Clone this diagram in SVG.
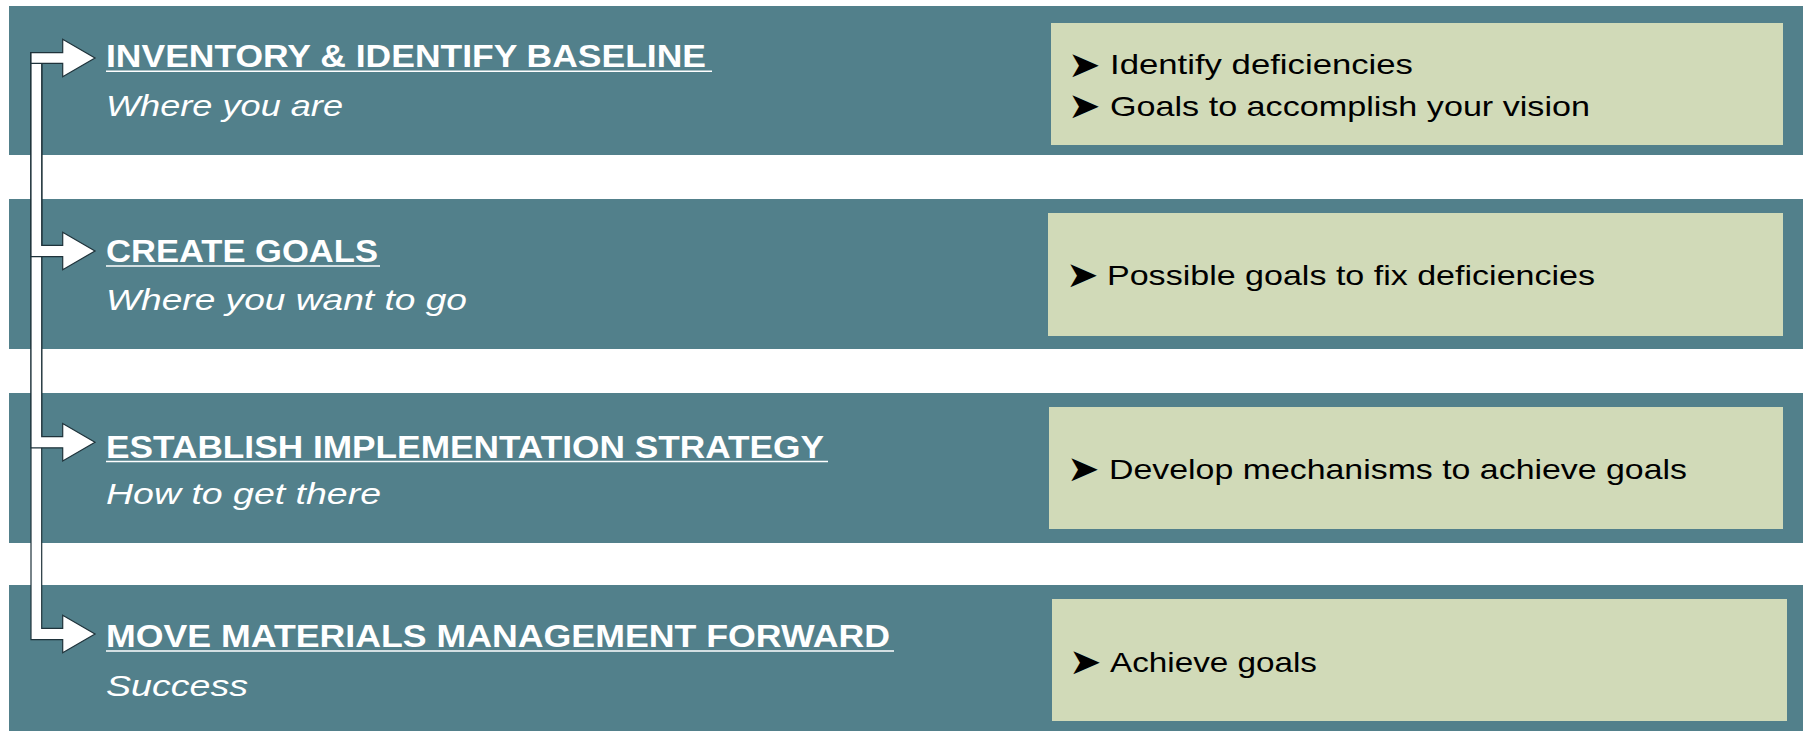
<svg xmlns="http://www.w3.org/2000/svg" width="1803" height="731" viewBox="0 0 1803 731">
<style>
.band{fill:#52808B}
.box{fill:#D1DAB8}
.title{font-family:"Liberation Sans",Arial,sans-serif;font-weight:bold;font-size:30.5px;fill:#FFFFFF}
.sub{font-family:"Liberation Sans",Arial,sans-serif;font-style:italic;font-size:29px;fill:#FFFFFF}
.uline{stroke:#FFFFFF;stroke-width:1.4}
.item{font-family:"Liberation Sans",Arial,sans-serif;font-size:28.5px;fill:#000000}
.bullet{font-family:"DejaVu Sans",sans-serif;font-size:36px;fill:#000000}
.elbow{fill:#FFFFFF;stroke:#1F333B;stroke-width:1.2;stroke-linejoin:miter}
</style>
<rect width="1803" height="731" fill="#FFFFFF"/>

<g id="step1">
<rect class="band" x="9" y="6" width="1794" height="149"/>
<text class="title" x="106" y="67.3" textLength="600" lengthAdjust="spacingAndGlyphs">INVENTORY &amp; IDENTIFY BASELINE</text>
<line class="uline" x1="106" y1="71.3" x2="712" y2="71.3"/>
<text class="sub" x="106" y="116" textLength="237" lengthAdjust="spacingAndGlyphs">Where you are</text>
</g>
<g id="detail1">
<rect class="box" x="1051" y="23" width="732" height="122"/>
<text class="bullet" transform="translate(1068,76.5) scale(1.08,1)">➤</text>
<text class="item" x="1110" y="74.3" textLength="303" lengthAdjust="spacingAndGlyphs">Identify deficiencies</text>
<text class="bullet" transform="translate(1068,118.2) scale(1.08,1)">➤</text>
<text class="item" x="1110" y="116" textLength="480" lengthAdjust="spacingAndGlyphs">Goals to accomplish your vision</text>
</g>

<g id="step2">
<rect class="band" x="9" y="199" width="1794" height="150"/>
<text class="title" x="106" y="262" textLength="272" lengthAdjust="spacingAndGlyphs">CREATE GOALS</text>
<line class="uline" x1="106" y1="266" x2="380" y2="266"/>
<text class="sub" x="106" y="310" textLength="361" lengthAdjust="spacingAndGlyphs">Where you want to go</text>
</g>
<g id="detail2">
<rect class="box" x="1048" y="213" width="735" height="123"/>
<text class="bullet" transform="translate(1066,287.2) scale(1.08,1)">➤</text>
<text class="item" x="1107" y="285" textLength="488" lengthAdjust="spacingAndGlyphs">Possible goals to fix deficiencies</text>
</g>

<g id="step3">
<rect class="band" x="9" y="393" width="1794" height="150"/>
<text class="title" x="106" y="457.5" textLength="718" lengthAdjust="spacingAndGlyphs">ESTABLISH IMPLEMENTATION STRATEGY</text>
<line class="uline" x1="106" y1="461.5" x2="828" y2="461.5"/>
<text class="sub" x="106" y="504" textLength="275" lengthAdjust="spacingAndGlyphs">How to get there</text>
</g>
<g id="detail3">
<rect class="box" x="1049" y="407" width="734" height="122"/>
<text class="bullet" transform="translate(1067,481.2) scale(1.08,1)">➤</text>
<text class="item" x="1109" y="479" textLength="578" lengthAdjust="spacingAndGlyphs">Develop mechanisms to achieve goals</text>
</g>

<g id="step4">
<rect class="band" x="9" y="585" width="1794" height="146"/>
<text class="title" x="106" y="646.7" textLength="784" lengthAdjust="spacingAndGlyphs">MOVE MATERIALS MANAGEMENT FORWARD</text>
<line class="uline" x1="106" y1="651" x2="894" y2="651"/>
<text class="sub" x="106" y="696" textLength="142" lengthAdjust="spacingAndGlyphs">Success</text>
</g>
<g id="detail4">
<rect class="box" x="1052" y="599" width="735" height="122"/>
<text class="bullet" transform="translate(1069,673.9) scale(1.08,1)">➤</text>
<text class="item" x="1110" y="671.7" textLength="207" lengthAdjust="spacingAndGlyphs">Achieve goals</text>
</g>

<g id="connectors">
<path class="elbow" d="M31,52.7 H41.7 V628.4 H62.7 V615.3 L95,634 L62.7,652.7 V639.6 H31 Z"/>
<path class="elbow" d="M31,52.7 H41.7 V436.6 H62.7 V423.5 L95,442.2 L62.7,460.9 V447.8 H31 Z"/>
<path class="elbow" d="M31,52.7 H41.7 V245.3 H62.7 V232.3 L95,251 L62.7,269.7 V256.7 H31 Z"/>
<path class="elbow" d="M31,52.7 H62.7 V39.3 L95,58 L62.7,76.7 V63.3 H31 Z"/>
</g>
</svg>
